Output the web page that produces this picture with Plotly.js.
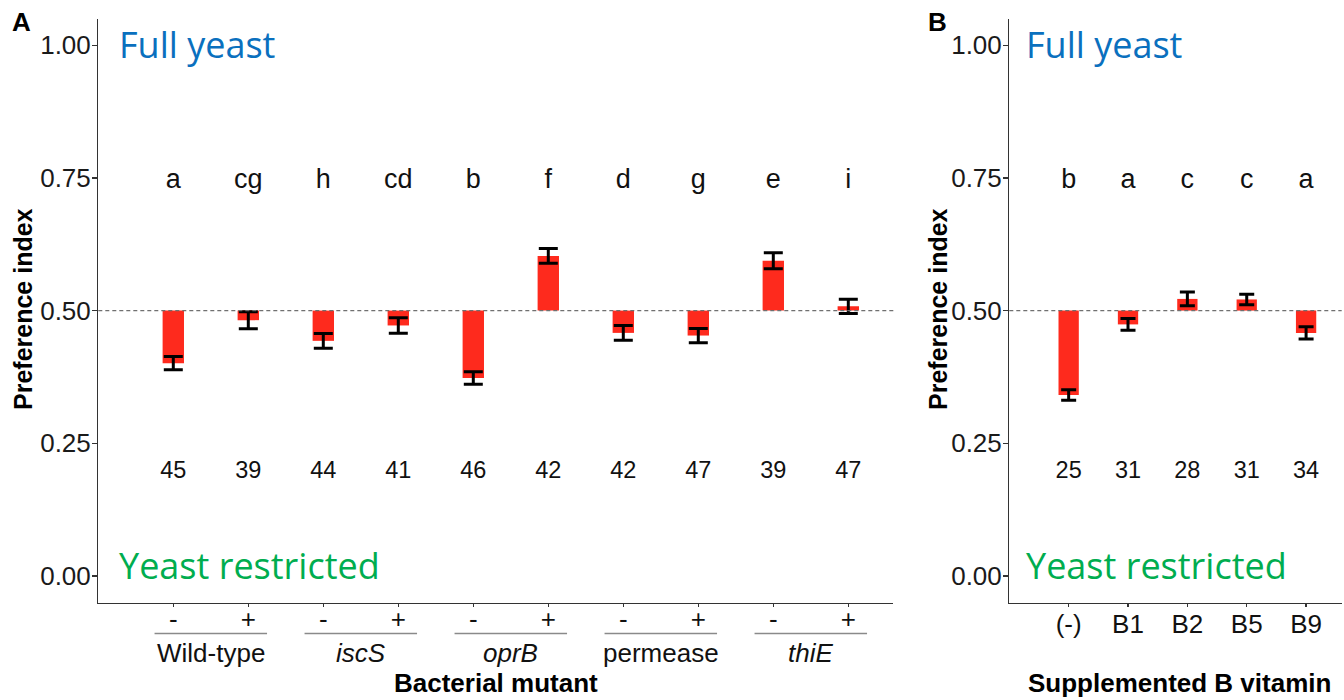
<!DOCTYPE html>
<html>
<head>
<meta charset="utf-8">
<script src="https://cdn.plot.ly/plotly-3.0.1.min.js"></script>
<style>html,body{margin:0;padding:0;background:#fff;}#chart{width:1344px;height:700px;}</style>
</head>
<body>
<div id="chart"></div>
<script>
// ---------- Data ----------
// Panel A: bacterial mutants, each with - / + supplement
const mutantGroups = ['Wild-type', 'iscS', 'oprB', 'permease', 'thiE'];
const mutantGroupItalic = [false, true, true, false, true];
const mutantSigns = ['-', '+', '-', '+', '-', '+', '-', '+', '-', '+'];
const mutantMean = [0.401, 0.482, 0.443, 0.472, 0.373, 0.603, 0.458, 0.453, 0.594, 0.508];
const mutantSE = [0.0125, 0.016, 0.014, 0.0145, 0.012, 0.014, 0.014, 0.0135, 0.015, 0.0135];
const mutantLetters = ['a', 'cg', 'h', 'cd', 'b', 'f', 'd', 'g', 'e', 'i'];
const mutantN = [45, 39, 44, 41, 46, 42, 42, 47, 39, 47];

// Panel B: supplemented B vitamins
const vitamins = ['(-)', 'B1', 'B2', 'B5', 'B9'];
const vitaminMean = [0.341, 0.474, 0.522, 0.521, 0.458];
const vitaminSE = [0.010, 0.011, 0.013, 0.010, 0.0115];
const vitaminLetters = ['b', 'a', 'c', 'c', 'a'];
const vitaminN = [25, 31, 28, 31, 34];

const yTicks = [0, 0.25, 0.5, 0.75, 1.0];
const baseline = 0.5;

// ---------- Styling ----------
const W = 1344, H = 700;
const FONT = 'Liberation Sans, Arial, sans-serif';
const BAR_COLOR = '#fe2a1d';
const BLUE = '#0a70be';
const GREEN = '#00ad4f';
const LETTER_Y = 0.744;
const N_Y = 0.196;

const xA = mutantMean.map((_, i) => i + 1);
const xB = vitaminMean.map((_, i) => i + 1);

const px = v => v / W;
const py = v => (H - v) / H;

const yDomain = [py(602.5), py(18.7)];
const xDomainA = [px(98.3), px(893.3)];
const xDomainB = [px(1009.3), px(1341.7)];

function barTrace(x, mean, width, xa, ya) {
  return {
    type: 'bar', x: x, y: mean.map(m => m - baseline), base: baseline,
    width: width, marker: {color: BAR_COLOR, line: {width: 0}},
    xaxis: xa, yaxis: ya, hoverinfo: 'skip', showlegend: false
  };
}
function errTrace(x, mean, se, capw, xa, ya) {
  return {
    type: 'scatter', mode: 'markers', x: x, y: mean,
    marker: {size: 1, opacity: 0},
    error_y: {type: 'data', array: se, visible: true, color: '#000', thickness: 3, width: capw},
    xaxis: xa, yaxis: ya, hoverinfo: 'skip', showlegend: false
  };
}
function textTrace(x, yv, texts, size, xa, ya) {
  return {
    type: 'scatter', mode: 'text', x: x, y: x.map(() => yv), text: texts.map(String),
    textposition: 'middle center', textfont: {family: FONT, size: size, color: '#111'},
    xaxis: xa, yaxis: ya, hoverinfo: 'skip', showlegend: false
  };
}

const traces = [
  barTrace(xA, mutantMean, 0.285, 'x', 'y'),
  errTrace(xA, mutantMean, mutantSE, 9.5, 'x', 'y'),
  textTrace(xA, LETTER_Y, mutantLetters, 27, 'x', 'y'),
  textTrace(xA, N_Y, mutantN, 23.5, 'x', 'y'),
  barTrace(xB, vitaminMean, 0.342, 'x2', 'y2'),
  errTrace(xB, vitaminMean, vitaminSE, 7.5, 'x2', 'y2'),
  textTrace(xB, LETTER_Y, vitaminLetters, 27, 'x2', 'y2'),
  textTrace(xB, N_Y, vitaminN, 23.5, 'x2', 'y2')
];

const axisCommon = {
  showgrid: false, zeroline: false, showline: true, linecolor: '#333', linewidth: 1.3,
  ticks: 'outside', tickcolor: '#333', tickwidth: 1.2, fixedrange: true
};
const yAxisCommon = Object.assign({}, axisCommon, {
  range: [-0.05, 1.05], tickvals: yTicks, ticktext: yTicks.map(v => v.toFixed(2)),
  ticklen: 5, ticklabelstandoff: -4,
  tickfont: {family: FONT, size: 26, color: '#1a1a1a'}, domain: yDomain
});

const shapes = [];
const annotations = [];

// dashed reference lines at 0.5
[['x', 'y'], ['x2', 'y2']].forEach(([xa, ya]) => {
  shapes.push({type: 'line', xref: xa + ' domain', yref: ya, x0: 0, x1: 1, y0: baseline, y1: baseline,
    line: {color: '#707070', width: 1.4, dash: '4px,3px'}});
});

// group lines and names under panel A
mutantGroups.forEach((g, k) => {
  const a = xA[2 * k], b = xA[2 * k + 1];
  shapes.push({type: 'line', xref: 'x', yref: 'paper', x0: a - 0.25, x1: b + 0.25, y0: py(633.5), y1: py(633.5),
    line: {color: '#8a8a8a', width: 1.5}});
  annotations.push({xref: 'x', yref: 'paper', x: (a + b) / 2, y: py(653), xanchor: 'center', yanchor: 'middle',
    text: mutantGroupItalic[k] ? '<i>' + g + '</i>' : g, showarrow: false,
    font: {family: FONT, size: 26, color: '#111'}});
});

// Panel annotations
function addPanelText(left) {
  annotations.push({xref: 'paper', yref: 'paper', x: px(left), y: py(45), xanchor: 'left', yanchor: 'middle',
    text: 'Full yeast', showarrow: false, font: {family: 'Open Sans, sans-serif', size: 36, color: BLUE}});
  annotations.push({xref: 'paper', yref: 'paper', x: px(left), y: py(565), xanchor: 'left', yanchor: 'middle',
    text: 'Yeast restricted', showarrow: false, font: {family: 'Open Sans, sans-serif', size: 36, color: GREEN}});
}
addPanelText(117);
addPanelText(1024);

// panel letters
annotations.push({xref: 'paper', yref: 'paper', x: px(10), y: py(22), xanchor: 'left', yanchor: 'middle',
  text: '<b>A</b>', showarrow: false, font: {family: FONT, size: 26, color: '#000'}});
annotations.push({xref: 'paper', yref: 'paper', x: px(926), y: py(22), xanchor: 'left', yanchor: 'middle',
  text: '<b>B</b>', showarrow: false, font: {family: FONT, size: 26, color: '#000'}});

// axis titles
[[23, 309], [938, 309]].forEach(([cx, cy]) => {
  annotations.push({xref: 'paper', yref: 'paper', x: px(cx), y: py(cy), xanchor: 'center', yanchor: 'middle',
    textangle: -90, text: '<b>Preference index</b>', showarrow: false,
    font: {family: FONT, size: 25, color: '#000'}});
});
annotations.push({xref: 'paper', yref: 'paper', x: px(496), y: 0, xanchor: 'center', yanchor: 'bottom',
  text: '<b>Bacterial mutant</b>', showarrow: false, font: {family: FONT, size: 26, color: '#000'}});
annotations.push({xref: 'paper', yref: 'paper', x: px(1179), y: 0, xanchor: 'center', yanchor: 'bottom',
  text: '<b>Supplemented B vitamin</b>', showarrow: false, font: {family: FONT, size: 26, color: '#000'}});

const layout = {
  width: W, height: H, margin: {l: 0, r: 0, t: 0, b: 0},
  paper_bgcolor: '#fff', plot_bgcolor: 'rgba(0,0,0,0)', showlegend: false,
  xaxis: Object.assign({}, axisCommon, {domain: xDomainA, anchor: 'y', range: [0, 10.6],
    tickvals: xA, ticktext: mutantSigns, ticklen: 3, ticklabelstandoff: -10,
    tickfont: {family: FONT, size: 26, color: '#111'}}),
  yaxis: Object.assign({}, yAxisCommon, {anchor: 'x'}),
  xaxis2: Object.assign({}, axisCommon, {domain: xDomainB, anchor: 'y2', range: [0, 5.6],
    tickvals: xB, ticktext: vitamins, ticklen: 3, ticklabelstandoff: -5,
    tickfont: {family: FONT, size: 26, color: '#111'}}),
  yaxis2: Object.assign({}, yAxisCommon, {anchor: 'x2'}),
  shapes: shapes, annotations: annotations
};

Plotly.newPlot('chart', traces, layout, {displayModeBar: false, staticPlot: true});
</script>
</body>
</html>
